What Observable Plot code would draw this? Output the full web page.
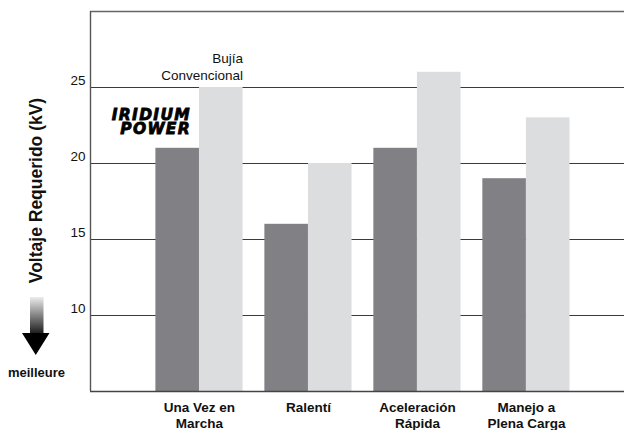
<!DOCTYPE html>
<html>
<head>
<meta charset="utf-8">
<script src="https://cdn.jsdelivr.net/npm/d3@7"></script>
<script src="https://cdn.jsdelivr.net/npm/@observablehq/plot@0.6"></script>
<style>
  html, body { margin: 0; padding: 0; background: #fff; }
</style>
</head>
<body>
<div id="chart"></div>
<script>
const categories = ["Una Vez en\nMarcha", "Ralentí", "Aceleración\nRápida", "Manejo a\nPlena Carga"];
const iridium = [21, 16, 21, 19];
const convencional = [25, 20, 26, 23];
const yTicks = [10, 15, 20, 25];
const yTitle = "Voltaje Requerido (kV)";
const seriesLabels = ["IRIDIUM\nPOWER", "Bujía\nConvencional"];
const betterLabel = "meilleure";

const idx = d3.range(categories.length);
const FONT = "'Liberation Sans', Arial, sans-serif";

const chart = Plot.plot({
  width: 624,
  height: 430,
  marginLeft: 90,
  marginRight: 0,
  marginTop: 11,
  marginBottom: 39,
  style: {fontFamily: FONT, fontSize: "13.5px", background: "#fff", color: "#111"},
  x: {type: "linear", domain: [-1, 3.9], axis: null},
  y: {domain: [5, 30], axis: null},
  marks: [
    Plot.ruleY(yTicks, {stroke: "#3a3a3a", strokeWidth: 1.2}),
    Plot.rectY(idx, {x1: i => i - 0.4, x2: i => i, y1: () => 5, y2: i => iridium[i], fill: "#818185"}),
    Plot.rectY(idx, {x1: i => i, x2: i => i + 0.4, y1: () => 5, y2: i => convencional[i], fill: "#dcdddf"}),
    Plot.ruleY([30], {stroke: "#666", strokeWidth: 1.6}),
    Plot.ruleY([5], {stroke: "#444", strokeWidth: 1.4}),
    Plot.ruleX([-1], {y1: 5, y2: 30, stroke: "#555", strokeWidth: 1.4}),
    Plot.axisY({ticks: yTicks, tickSize: 0, tickPadding: 5, dy: -7, label: null, fontSize: 13.5, fill: "#111"}),
    Plot.text(idx, {x: i => i, text: i => categories[i], frameAnchor: "bottom", lineAnchor: "top", dy: 9,
      fontWeight: "bold", fontSize: 13.5, lineHeight: 1.2, fill: "#111"}),
    Plot.text([seriesLabels[1]], {x: () => 0.4, y: () => convencional[0], textAnchor: "end", lineAnchor: "bottom",
      dy: -8, fontSize: 13.5, lineHeight: 1.25, fill: "#111"}),
    Plot.text([yTitle], {frameAnchor: "left", textAnchor: "middle", dx: -54, dy: -11, rotate: -90,
      fontWeight: "bold", fontSize: 17.5, fill: "#111"}),
    Plot.text([betterLabel], {frameAnchor: "bottom-left", textAnchor: "middle", dx: -54, dy: -15,
      fontWeight: "bold", fontSize: 13, fill: "#111"})
  ]
});

document.getElementById("chart").appendChild(chart);

// decorations: logo and arrow
const svg = d3.select(chart);
const defs = svg.append("defs");
const grad = defs.append("linearGradient").attr("id", "arrowGrad").attr("x1", 0).attr("y1", 0).attr("x2", 0).attr("y2", 1);
grad.append("stop").attr("offset", "0%").attr("stop-color", "#ececec");
grad.append("stop").attr("offset", "100%").attr("stop-color", "#1a1a1a");
const deco = svg.append("g");
deco.append("rect").attr("x", 30).attr("y", 297).attr("width", 13.5).attr("height", 37).attr("fill", "url(#arrowGrad)");
deco.append("path").attr("d", "M22,333 L49.5,333 L35.75,355 Z").attr("fill", "#000");

seriesLabels[0].split("\n").forEach((line, k) => {
  deco.append("text")
    .attr("font-family", "'DejaVu Sans', sans-serif")
    .attr("font-weight", "bold").attr("font-style", "italic")
    .attr("font-size", 15.5).attr("letter-spacing", 1.3)
    .attr("fill", "#000").attr("stroke", "#000").attr("stroke-width", 0.8)
    .attr("text-anchor", "end")
    .attr("x", 191).attr("y", 120 + k * 13.5).text(line);
});
</script>
</body>
</html>
